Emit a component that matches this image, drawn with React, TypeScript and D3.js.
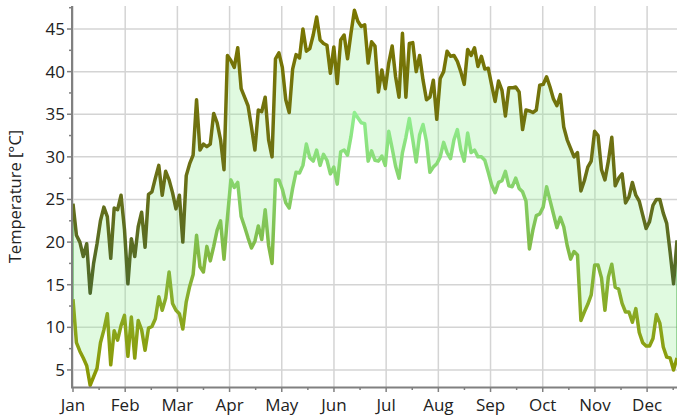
import * as d3 from 'd3';

const months = ['Jan', 'Feb', 'Mar', 'Apr', 'May', 'Jun', 'Jul', 'Aug', 'Sep', 'Oct', 'Nov', 'Dec'];
const yTicks = [5, 10, 15, 20, 25, 30, 35, 40, 45];
const dayStep = 2; // one reading every second day, starting Jan 1

const maxTemp = [
  24.5, 20.8, 20.0, 18.3, 19.8, 14.0, 17.5, 19.8, 22.5, 24.1,
  23.0, 18.1, 24.0, 23.8, 25.5, 21.5, 15.1, 20.4, 18.3, 21.8,
  23.5, 19.4, 25.6, 25.9, 27.5, 29.0, 25.5, 28.3, 27.3, 25.8,
  23.9, 25.5, 20.0, 27.8, 29.2, 30.2, 36.7, 30.8, 31.5, 31.2,
  31.5, 35.1, 34.0, 32.0, 28.5, 41.9, 41.3, 40.5, 42.8, 38.0,
  37.0, 36.0, 33.5, 30.8, 35.5, 35.3, 37.0, 32.0, 30.0, 41.5,
  42.2, 40.5, 36.7, 35.2, 40.3, 42.0, 41.6, 45.0, 42.4, 42.7,
  44.3, 46.4, 43.7, 43.3, 43.1, 39.8, 42.9, 38.6, 43.7, 44.3,
  41.5, 44.5, 47.2, 45.9, 45.3, 45.5, 41.0, 43.5, 43.0, 37.6,
  40.2, 38.0, 41.0, 43.0, 39.4, 37.0, 44.5, 37.0, 43.3, 43.4,
  40.0, 41.9, 39.0, 36.7, 37.0, 39.0, 34.4, 39.2, 40.0, 42.4,
  41.8, 41.9, 41.2, 40.0, 38.5, 42.6, 41.9, 42.8, 40.6, 41.8,
  40.3, 40.4, 38.4, 36.5, 38.9, 37.8, 34.8, 38.1, 38.1, 38.2,
  37.6, 33.2, 35.5, 35.4, 35.2, 35.5, 38.4, 38.5, 39.4, 38.2,
  36.8, 36.0, 37.3, 33.5, 32.0, 31.0, 30.0, 30.5, 26.0, 27.2,
  28.8, 29.5, 33.0, 32.5, 28.5, 27.3, 29.5, 32.3, 26.6, 27.5,
  28.0, 24.6, 25.3, 27.0, 25.5, 24.8, 23.2, 21.6, 22.4, 24.3,
  25.0, 25.0, 23.4, 22.2, 18.8, 15.1, 20.2,
];

const minTemp = [
  13.3, 8.2, 7.2, 6.4, 5.5, 3.2, 4.2, 5.2, 8.2, 9.7,
  11.6, 5.6, 9.6, 8.5, 10.2, 11.4, 6.6, 11.2, 6.4, 10.8,
  9.7, 7.3, 9.9, 10.1, 11.0, 13.6, 12.0, 13.4, 16.5, 12.8,
  12.0, 11.6, 9.8, 13.0, 14.8, 16.2, 20.8, 17.1, 16.5, 19.5,
  17.8, 19.5, 21.4, 22.5, 18.0, 22.9, 27.3, 26.4, 27.0, 23.0,
  21.8, 20.5, 19.3, 20.1, 21.9, 20.3, 23.8, 19.6, 17.5, 27.3,
  27.3, 26.2, 24.6, 24.0, 26.3, 28.2, 28.1, 29.0, 31.5, 29.9,
  29.5, 30.8, 29.0, 30.3, 29.6, 28.0, 28.8, 26.8, 30.6, 30.8,
  30.2, 32.4, 35.2, 34.6, 34.0, 33.9, 29.5, 30.7, 29.6, 29.5,
  30.1, 29.0, 33.0, 31.0, 28.9, 27.5, 30.5, 32.3, 34.5, 32.0,
  29.4, 32.6, 33.8, 31.8, 28.2, 28.8, 29.2, 30.0, 31.7, 30.5,
  29.8, 32.0, 33.2, 30.8, 29.5, 32.8, 30.5, 30.8, 30.0, 30.0,
  29.6, 28.2, 26.7, 25.8, 27.0, 27.2, 28.3, 26.6, 26.5, 27.5,
  26.3, 25.9, 24.8, 19.2, 21.4, 23.1, 23.3, 24.1, 26.5, 24.9,
  23.3, 21.7, 22.9, 21.8, 19.6, 18.0, 18.9, 18.5, 10.8, 11.8,
  12.7, 13.8, 17.3, 17.3, 15.8, 12.0, 15.9, 17.4, 14.7, 14.5,
  12.8, 11.8, 11.8, 10.6, 12.2, 9.4, 8.2, 7.8, 7.8, 8.7,
  11.5, 10.5, 7.7, 6.5, 6.4, 5.0, 6.4,
];

const W = 677;
const H = 418;
const FONT = '"Open Sans", "Segoe UI", sans-serif';

export default function App() {
  const lastDay = (maxTemp.length - 1) * dayStep;
  const x = d3.scaleLinear().domain([0, lastDay]).range([73, 677]);
  const y = d3.scaleLinear().domain([3, 47.7]).range([387, 6]);
  const monthLen = 365 / 12;

  const monthX = months.map((_, i) => x(i * monthLen));
  const halfX = months.map((_, i) => (i + 0.5) * monthLen).filter(d => d <= lastDay).map(d => x(d));
  const minorY = yTicks.map(t => t + 2.5).filter(t => t < 47.7);

  const line = d3
    .line<number>()
    .x((_, i) => x(i * dayStep))
    .y(d => y(d));

  const area = d3
    .area<number>()
    .x((_, i) => x(i * dayStep))
    .y0((_, i) => y(minTemp[i]))
    .y1(d => y(d));

  const [left, right] = x.range();
  const [bottom, top] = y.range();

  return (
    <svg width={W} height={H} style={{ position: 'absolute', left: 0, top: 0, background: '#fff' }}>
      <defs>
        <linearGradient id="gMax" gradientUnits="userSpaceOnUse" x1={0} x2={0} y1={y(d3.max(maxTemp)!)} y2={y(d3.min(maxTemp)!)}>
          <stop offset="0%" stopColor="#7a7600" />
          <stop offset="55%" stopColor="#6c7014" />
          <stop offset="100%" stopColor="#4e6a2c" />
        </linearGradient>
        <linearGradient id="gMin" gradientUnits="userSpaceOnUse" x1={0} x2={0} y1={y(d3.max(minTemp)!)} y2={y(d3.min(minTemp)!)}>
          <stop offset="0%" stopColor="#90ee90" />
          <stop offset="45%" stopColor="#80c050" />
          <stop offset="75%" stopColor="#8aa820" />
          <stop offset="100%" stopColor="#8a9600" />
        </linearGradient>
        <clipPath id="plot">
          <rect x={left} y={top} width={right - left} height={bottom - top} />
        </clipPath>
      </defs>

      {/* grid */}
      {yTicks.map(t => (
        <line key={'gy' + t} x1={left} x2={right} y1={y(t)} y2={y(t)} stroke="#d4d4d4" strokeWidth={1.5} />
      ))}
      {monthX.map((mx, i) => (
        <line key={'gx' + i} x1={mx} x2={mx} y1={top} y2={bottom} stroke="#d4d4d4" strokeWidth={1.5} />
      ))}

      {/* band + lines */}
      <g clipPath="url(#plot)">
        <path d={area(maxTemp)!} fill="#90ee90" fillOpacity={0.28} stroke="#4fb04f" strokeWidth={1} />
        <path d={line(minTemp)!} fill="none" stroke="url(#gMin)" strokeWidth={3.5} strokeLinejoin="round" />
        <path d={line(maxTemp)!} fill="none" stroke="url(#gMax)" strokeWidth={3.5} strokeLinejoin="round" />
      </g>

      {/* y axis */}
      <line x1={72} x2={72} y1={top} y2={bottom + 1} stroke="#808080" strokeWidth={2} />
      {yTicks.map(t => (
        <g key={'ty' + t}>
          <line x1={67} x2={72} y1={y(t)} y2={y(t)} stroke="#808080" strokeWidth={1.5} />
          <text x={65} y={y(t) + 6} textAnchor="end" fontFamily={FONT} fontSize={17} fill="#222">
            {t}
          </text>
        </g>
      ))}
      {minorY.map(t => (
        <line key={'my' + t} x1={69} x2={72} y1={y(t)} y2={y(t)} stroke="#808080" strokeWidth={1.5} />
      ))}
      <text
        transform={`translate(21,${(top + bottom) / 2}) rotate(-90)`}
        textAnchor="middle"
        fontFamily={FONT}
        fontSize={16.5}
        fill="#222"
      >
        Temperature [°C]
      </text>

      {/* x axis */}
      <line x1={71} x2={right} y1={bottom + 0.5} y2={bottom + 0.5} stroke="#808080" strokeWidth={2} />
      {monthX.map((mx, i) => (
        <g key={'tx' + i}>
          <line x1={mx} x2={mx} y1={bottom} y2={bottom + 5} stroke="#808080" strokeWidth={1.5} />
          <text x={mx} y={411} textAnchor="middle" fontFamily={FONT} fontSize={17} fill="#222">
            {months[i]}
          </text>
        </g>
      ))}
      {halfX.map((hx, i) => (
        <line key={'mx' + i} x1={hx} x2={hx} y1={bottom} y2={bottom + 3} stroke="#808080" strokeWidth={1.5} />
      ))}
    </svg>
  );
}
